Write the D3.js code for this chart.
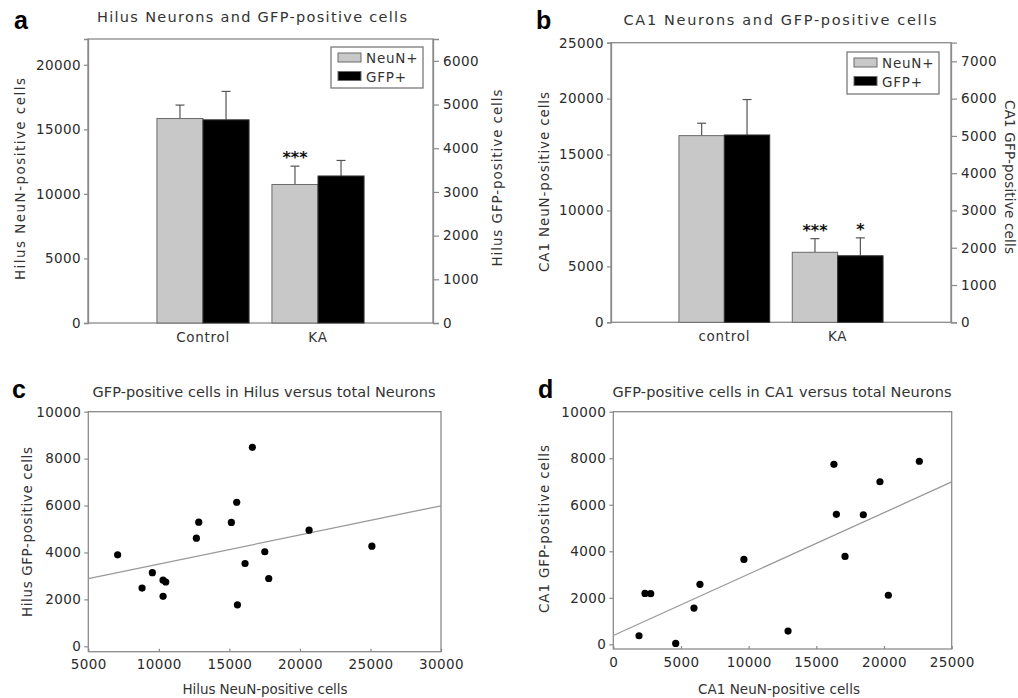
<!DOCTYPE html>
<html>
<head>
<meta charset="utf-8">
<script src="https://cdn.jsdelivr.net/npm/d3@7"></script>
<style>
  body { margin: 0; background: #fff; }
  svg text { font-family: "DejaVu Sans", sans-serif; fill: #333; }
</style>
</head>
<body>
<div id="drawing-area"></div>
<script>

// ---- data ----
var groupsA = ["Control", "KA"];
var neunA = [15840, 10730];
var neunErrA = [16880, 12150];
var gfpA = [4650, 3365];
var gfpErrA = [5300, 3720];

var groupsB = ["control", "KA"];
var neunB = [16690, 6260];
var neunErrB = [17800, 7480];
var gfpB = [5025, 1785];
var gfpErrB = [5975, 2265];

var leftTicksA = [0, 5000, 10000, 15000, 20000];
var rightTicksA = [0, 1000, 2000, 3000, 4000, 5000, 6000];
var leftTicksB = [0, 5000, 10000, 15000, 20000, 25000];
var rightTicksB = [0, 1000, 2000, 3000, 4000, 5000, 6000, 7000];

var hilusNeuN = [7080, 8810, 9540, 10300, 10490, 10300, 12660, 12830, 15140, 15520, 16630, 15570, 16110, 17510, 17790, 20650, 25100];
var hilusGFP  = [3900, 2480, 3140, 2820, 2740, 2130, 4610, 5290, 5280, 6140, 8480, 1770, 3530, 4030, 2890, 4950, 4270];
var fitC_x = [5000, 30000];
var fitC_y = [2880, 5990];

var ca1NeuN = [1900, 2340, 2760, 4610, 5960, 6400, 9650, 12910, 16300, 16480, 17120, 18470, 19700, 20320, 22610];
var ca1GFP  = [370, 2190, 2180, 40, 1560, 2580, 3650, 570, 7740, 5590, 3780, 5570, 6990, 2110, 7870];
var fitD_x = [0, 25000];
var fitD_y = [380, 6980];

var scatterTicksY = [0, 2000, 4000, 6000, 8000, 10000];
var ticksXC = [5000, 10000, 15000, 20000, 25000, 30000];
var ticksXD = [0, 5000, 10000, 15000, 20000, 25000];

var sx = 1018, sy = 698;
var svg = d3.select('#drawing-area').append('svg').attr('width', sx).attr('height', sy);

var AX = "#8a8a8a";
var fmt = d3.format("d");

function panelLetter(x, y, t) {
    svg.append("text").attr("x", x).attr("y", y).text(t)
        .attr("font-size", 25).attr("font-weight", "bold")
        .style("fill", "#000").style("font-family", "Liberation Sans, Arial, sans-serif");
}

function title(x, y, t, len) {
    svg.append("text").attr("x", x).attr("y", y).text(t)
        .attr("text-anchor", "middle").style("font-size", "14.5px")
        .attr("textLength", len).attr("lengthAdjust", "spacing");
}

function yLabel(x, y, t, rot, len) {
    svg.append("text").attr("transform", "translate(" + x + "," + y + ") rotate(" + rot + ")")
        .attr("text-anchor", "middle").attr("dominant-baseline", "middle")
        .style("font-size", "13.5px").attr("textLength", len).attr("lengthAdjust", "spacing").text(t);
}

function xLabel(x, y, t, len) {
    svg.append("text").attr("x", x).attr("y", y).attr("text-anchor", "middle").style("font-size", "13.5px")
        .attr("textLength", len).attr("lengthAdjust", "spacing").text(t);
}

function styleAxis(a, keepDomain) {
    if (keepDomain) a.select(".domain").attr("stroke", AX).attr("stroke-width", 1.3);
    else a.select(".domain").remove();
    a.selectAll(".tick line").attr("stroke", AX).attr("stroke-width", 1.2);
    a.selectAll(".tick text")
        .style("font-size", "13.5px").style("letter-spacing", "0.4px").style("fill", "#2b2b2b");
}

function barPanel(o) {
    var x0 = o.box[0], x1 = o.box[1], y0 = o.box[2], y1 = o.box[3];
    var g = svg.append("g");
    var xs = d3.scalePoint().domain(o.groups).range([x0, x1]).padding(1);
    var yl = d3.scaleLinear().domain([0, o.maxL]).range([y1, y0]);
    var yr = d3.scaleLinear().domain([0, o.maxR]).range([y1, y0]);
    var bw = (x1 - x0) * 0.1335;

    // frame
    g.append("rect").attr("x", x0).attr("y", y0).attr("width", x1 - x0).attr("height", y1 - y0)
        .attr("fill", "none").attr("stroke", AX).attr("stroke-width", 1.3);

    o.groups.forEach(function (c, i) {
        var cx = xs(c);
        // error bars (upper only)
        [[cx - bw / 2, o.neun[i], o.neunErr[i], yl], [cx + bw / 2, o.gfp[i], o.gfpErr[i], yr]].forEach(function (e) {
            g.append("line").attr("x1", e[0]).attr("x2", e[0]).attr("y1", e[3](e[1])).attr("y2", e[3](e[2]))
                .attr("stroke", "#555").attr("stroke-width", 1.2);
            g.append("line").attr("x1", e[0] - 4.5).attr("x2", e[0] + 4.5).attr("y1", e[3](e[2])).attr("y2", e[3](e[2]))
                .attr("stroke", "#555").attr("stroke-width", 1.2);
        });
        g.append("rect").attr("x", cx - bw).attr("y", yl(o.neun[i])).attr("width", bw)
            .attr("height", yl(0) - yl(o.neun[i]))
            .attr("fill", "#c8c8c8").attr("stroke", "#6a6a6a").attr("stroke-width", 1);
        g.append("rect").attr("x", cx).attr("y", yr(o.gfp[i])).attr("width", bw)
            .attr("height", yr(0) - yr(o.gfp[i]))
            .attr("fill", "#000").attr("stroke", "#333").attr("stroke-width", 1);
        if (o.stars[i][0])
            g.append("text").attr("x", cx - bw / 2).attr("y", yl(o.neunErr[i]) - 3).text(o.stars[i][0])
                .attr("text-anchor", "middle").style("font-size", "16px").attr("font-weight", "bold").style("fill", "#111");
        if (o.stars[i][1])
            g.append("text").attr("x", cx + bw / 2).attr("y", yr(o.gfpErr[i]) - 3).text(o.stars[i][1])
                .attr("text-anchor", "middle").style("font-size", "16px").attr("font-weight", "bold").style("fill", "#111");
        g.append("text").attr("x", cx).attr("y", y1 + 19).text(c)
            .attr("text-anchor", "middle").style("font-size", "13.5px").style("letter-spacing", "0.7px");
    });

    var la = g.append("g").attr("transform", "translate(" + x0 + ",0)")
        .call(d3.axisLeft(yl).tickValues(o.ticksL).tickFormat(fmt).tickSize(4).tickPadding(3));
    var ra = g.append("g").attr("transform", "translate(" + x1 + ",0)")
        .call(d3.axisRight(yr).tickValues(o.ticksR).tickFormat(fmt).tickSize(6).tickPadding(4));
    styleAxis(la, true);
    styleAxis(ra, true);

    // legend
    var L = o.legend;
    g.append("rect").attr("x", L[0]).attr("y", L[1]).attr("width", L[2]).attr("height", L[3])
        .attr("fill", "#fff").attr("stroke", "#7a7a7a").attr("stroke-width", 1.3);
    [["NeuN+", "#c8c8c8"], ["GFP+", "#000"]].forEach(function (d, k) {
        var yy = L[1] + 6 + k * 18.5;
        g.append("rect").attr("x", L[0] + 7).attr("y", yy).attr("width", 23).attr("height", 9)
            .attr("fill", d[1]).attr("stroke", "#6a6a6a").attr("stroke-width", 1);
        g.append("text").attr("x", L[0] + 35).attr("y", yy + 10).text(d[0])
            .style("font-size", "13.5px").style("letter-spacing", "0.8px");
    });
}

function scatterPanel(o) {
    var x0 = o.box[0], x1 = o.box[1], y0 = o.box[2], y1 = o.box[3];
    var g = svg.append("g");
    var xs = d3.scaleLinear().domain(o.xDom).range([x0, x1]);
    var ys = d3.scaleLinear().domain(o.yDom).range([y1, y0]);

    g.append("rect").attr("x", x0).attr("y", y0).attr("width", x1 - x0).attr("height", y1 - y0)
        .attr("fill", "none").attr("stroke", AX).attr("stroke-width", 1.3);

    var ya = g.append("g").attr("transform", "translate(" + x0 + ",0)")
        .call(d3.axisLeft(ys).tickValues(scatterTicksY).tickFormat(fmt).tickSize(4).tickPadding(3));
    var xa = g.append("g").attr("transform", "translate(0," + y1 + ")")
        .call(d3.axisBottom(xs).tickValues(o.xTicks).tickFormat(fmt).tickSize(-3).tickPadding(8));
    styleAxis(ya, false);
    styleAxis(xa, false);

    g.append("line").attr("x1", xs(o.fitX[0])).attr("y1", ys(o.fitY[0]))
        .attr("x2", xs(o.fitX[1])).attr("y2", ys(o.fitY[1]))
        .attr("stroke", "#999").attr("stroke-width", 1.3);

    g.selectAll("circle.pt").data(o.xv).enter().append("circle").attr("class", "pt")
        .attr("cx", function (d) { return xs(d); })
        .attr("cy", function (d, i) { return ys(o.yv[i]); })
        .attr("r", 3.6).attr("fill", "#000");
}

// ---- panel a ----
panelLetter(14, 29, "a");
title(252, 22, "Hilus Neurons and GFP-positive cells", 310);
barPanel({
    box: [88, 433, 39, 323], groups: groupsA, maxL: 22000, maxR: 6500,
    neun: neunA, neunErr: neunErrA, gfp: gfpA, gfpErr: gfpErrA,
    ticksL: leftTicksA, ticksR: rightTicksA,
    stars: [["", ""], ["***", ""]],
    legend: [331, 47, 92, 41]
});
yLabel(21, 179, "Hilus NeuN-positive cells", -90, 202);
yLabel(498, 178, "Hilus GFP-positive cells", -90, 177);

// ---- panel b ----
panelLetter(536, 29, "b");
title(780, 25, "CA1 Neurons and GFP-positive cells", 313);
barPanel({
    box: [611, 951, 42.7, 322.3], groups: groupsB, maxL: 25000, maxR: 7500,
    neun: neunB, neunErr: neunErrB, gfp: gfpB, gfpErr: gfpErrB,
    ticksL: leftTicksB, ticksR: rightTicksB,
    stars: [["", ""], ["***", "*"]],
    legend: [847, 52, 92, 42]
});
yLabel(545, 182, "CA1 NeuN-positive cells", -90, 180);
yLabel(1009, 177, "CA1 GFP-positive cells", 90, 154);

// ---- panel c ----
panelLetter(12, 398, "c");
title(264, 397, "GFP-positive cells in Hilus versus total Neurons", 343);
scatterPanel({
    box: [88.3, 441, 411.7, 651.7], xDom: [5000, 30000], yDom: [-230, 10000],
    xTicks: ticksXC, xv: hilusNeuN, yv: hilusGFP, fitX: fitC_x, fitY: fitC_y
});
yLabel(28, 532, "Hilus GFP-positive cells", -90, 170);
xLabel(265, 694, "Hilus NeuN-positive cells", 165);

// ---- panel d ----
panelLetter(538, 398, "d");
title(782, 397, "GFP-positive cells in CA1 versus total Neurons", 339);
scatterPanel({
    box: [613.3, 951.7, 411.7, 649], xDom: [0, 25000], yDom: [-200, 10000],
    xTicks: ticksXD, xv: ca1NeuN, yv: ca1GFP, fitX: fitD_x, fitY: fitD_y
});
yLabel(545, 529, "CA1 GFP-positive cells", -90, 168);
xLabel(779, 694, "CA1 NeuN-positive cells", 162);

</script>
</body>
</html>
